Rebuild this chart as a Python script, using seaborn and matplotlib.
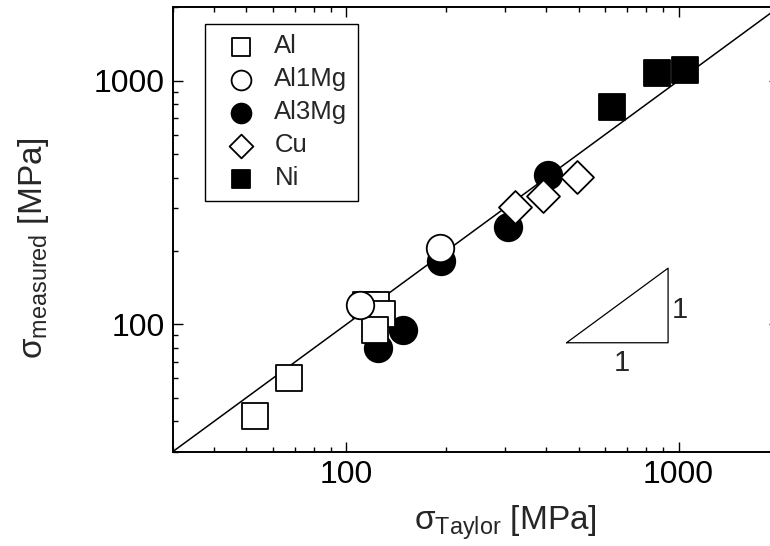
import numpy as np
import pandas as pd
import matplotlib
matplotlib.use("Agg")
import matplotlib.pyplot as plt
import seaborn as sns
from matplotlib.ticker import LogLocator, NullFormatter, FixedLocator, FixedFormatter

# ---------------- data ----------------
materials = ["Al", "Al1Mg", "Al3Mg", "Cu", "Ni"]

al_taylor = [52.9, 67.2, 114.5, 122.5, 128.1, 121.9]
al_measured = [42.0, 60.2, 119.6, 119.6, 110.1, 94.8]

al1mg_taylor = [109.8, 191.9]
al1mg_measured = [119.9, 205.6]

al3mg_taylor = [124.7, 148.3, 193.0, 307.0, 405.0]
al3mg_measured = [79.8, 94.8, 182.0, 250.5, 410.0]

cu_taylor = [321.7, 390.0, 493.6]
cu_measured = [302.0, 335.0, 401.0]

ni_taylor = [630.4, 859.7, 1048.4]
ni_measured = [783.0, 1078.0, 1101.0]

axis_limits = [30, 2000]
major_ticks = [100, 1000]
major_tick_labels = ["100", "1000"]

slope_triangle_x = [460, 930, 930, 460]
slope_triangle_y = [84, 84, 170, 84]
slope_label_text = "1"
slope_label_vertical = (1010, 114.4)
slope_label_horizontal = (675, 69.3)

frames = []
for name, xs, ys in [("Al", al_taylor, al_measured),
                     ("Al1Mg", al1mg_taylor, al1mg_measured),
                     ("Al3Mg", al3mg_taylor, al3mg_measured),
                     ("Cu", cu_taylor, cu_measured),
                     ("Ni", ni_taylor, ni_measured)]:
    frames.append(pd.DataFrame({"material": name, "taylor": xs, "measured": ys}))
df = pd.concat(frames, ignore_index=True)

# ---------------- style ----------------
sns.set_theme(style="ticks")
plt.rcParams["font.family"] = ["Liberation Sans", "DejaVu Sans"]
plt.rcParams["mathtext.fontset"] = "custom"
plt.rcParams["mathtext.rm"] = "Liberation Sans"
plt.rcParams["mathtext.it"] = "Liberation Sans"

styles = {
    "Al":    dict(marker="s", fc="white", s=350, z=4),
    "Al1Mg": dict(marker="o", fc="white", s=392, z=5),
    "Al3Mg": dict(marker="o", fc="black", s=392, z=3),
    "Cu":    dict(marker="D", fc="white", s=282, z=6),
    "Ni":    dict(marker="s", fc="black", s=342, z=7),
}

fig = plt.figure(figsize=(7.7, 5.46), dpi=100)
ax = fig.add_axes([0.2243, 0.1727, 0.7868, 0.8139])
ax.set_xscale("log")
ax.set_yscale("log")

for m in materials:
    st = styles[m]
    sub = df[df["material"] == m]
    sns.scatterplot(data=sub, x="taylor", y="measured", ax=ax,
                    marker=st["marker"], s=st["s"], color=st["fc"],
                    edgecolor="black", linewidth=1.3, zorder=st["z"],
                    label=m, clip_on=False)

# 1:1 reference line
ax.axline((axis_limits[0], axis_limits[0]), (axis_limits[1], axis_limits[1]),
          color="black", linewidth=1.1, zorder=2)

# slope triangle
ax.plot(slope_triangle_x, slope_triangle_y, color="black", linewidth=0.9, zorder=2)
ax.text(*slope_label_vertical, slope_label_text, fontsize=21, ha="center", va="center")
ax.text(*slope_label_horizontal, slope_label_text, fontsize=21, ha="center", va="center")

ax.set_xlim(axis_limits)
ax.set_ylim(axis_limits)

for axis in (ax.xaxis, ax.yaxis):
    axis.set_major_locator(FixedLocator(major_ticks))
    axis.set_major_formatter(FixedFormatter(major_tick_labels))
    axis.set_minor_locator(LogLocator(base=10, subs=np.arange(2, 10)))
    axis.set_minor_formatter(NullFormatter())

ax.tick_params(which="both", direction="in", top=True, right=True, colors="black",
               width=1.0)
ax.tick_params(which="major", length=7.2, labelsize=23, pad=6)
ax.tick_params(which="minor", length=3.6)
for sp in ax.spines.values():
    sp.set_linewidth(1.4)
    sp.set_color("black")

ax.set_xlabel("σ$_{\\mathregular{Taylor}}$ [MPa]", fontsize=24)
ax.set_ylabel("σ$_{\\mathregular{measured}}$ [MPa]", fontsize=24)
ax.xaxis.set_label_coords(0.5485, -0.1593)
ax.xaxis.label.set_va("center")
ax.yaxis.set_label_coords(-0.2306, 0.4584)
ax.yaxis.label.set_va("center")
ax.yaxis.label.set_ha("center")

leg = ax.legend(loc="upper left", bbox_to_anchor=(0.0533, 0.9624), borderaxespad=0,
                fontsize=18.5, markerscale=0.72, frameon=True, fancybox=False,
                edgecolor="black", framealpha=1, handlelength=2.0,
                handletextpad=0.3, labelspacing=0.35, borderpad=0.4)
leg.get_frame().set_linewidth(1.0)

fig.savefig("out.png", dpi=100)
